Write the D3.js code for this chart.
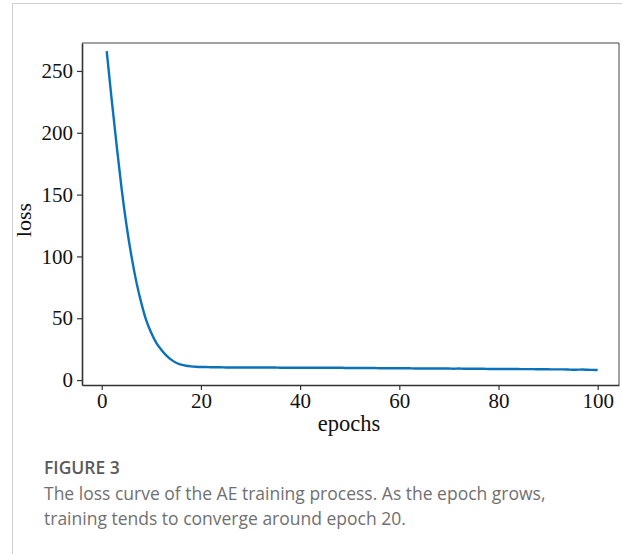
<!DOCTYPE html>
<html><head><meta charset="utf-8">
<script src="https://cdn.jsdelivr.net/npm/d3@7"></script>
<style>
html,body{margin:0;padding:0;background:#fff;}
svg{display:block;}
</style></head>
<body>
<svg id="c" width="622" height="554"></svg>
<script>
const epochs = d3.range(1, 101);
const loss = [
 266, 227, 190, 155, 125, 100, 79, 62, 48, 38,
 30, 24.5, 20, 16.5, 14, 12.5, 11.6, 11.1, 10.8, 10.6,
 10.5, 10.4, 10.3, 10.3, 10.2, 10.2, 10.2, 10.1, 10.1, 10.1,
 10.1, 10.1, 10.1, 10.1, 10.1, 10.0, 10.0, 10.0, 10.0, 10.0,
 10.0, 10.0, 10.0, 10.0, 9.9, 9.9, 9.9, 10.0, 9.8, 9.8,
 9.8, 9.7, 9.7, 9.7, 9.7, 9.6, 9.6, 9.6, 9.6, 9.5,
 9.5, 9.5, 9.4, 9.4, 9.4, 9.4, 9.3, 9.3, 9.3, 9.3,
 9.2, 9.3, 9.2, 9.2, 9.1, 9.1, 9.1, 9.0, 9.0, 9.0,
 9.0, 8.9, 8.9, 8.9, 8.8, 8.8, 8.8, 8.7, 8.7, 8.7,
 8.6, 8.6, 8.6, 8.5, 8.3, 8.4, 8.5, 8.3, 8.2, 8.1
];
const xTicks = [0, 20, 40, 60, 80, 100];
const yTicks = [0, 50, 100, 150, 200, 250];
const xLabel = "epochs";
const yLabel = "loss";
const figTitle = "FIGURE 3";
const captionLines = [
 "The loss curve of the AE training process. As the epoch grows,",
 "training tends to converge around epoch 20."
];

const svg = d3.select("#c");
const L = 82, R = 619, T = 43, B = 385;
const x = d3.scaleLinear().domain([-3.98, 104.3]).range([L, R]);
const y = d3.scaleLinear().domain([-4, 272.6]).range([B, T]);

// page frame
svg.append("line").attr("x1", 12).attr("x2", 622).attr("y1", 3.5).attr("y2", 3.5)
  .attr("stroke", "#cfcfcf").attr("stroke-width", 1);
svg.append("line").attr("x1", 12.5).attr("x2", 12.5).attr("y1", 3.5).attr("y2", 554)
  .attr("stroke", "#cfcfcf").attr("stroke-width", 1);

// box top/right
svg.append("path").attr("d", `M${L},${T}H${R}V${B}`).attr("fill", "none")
  .attr("stroke", "#444").attr("stroke-width", 1);

const serif = "'Liberation Serif','Times New Roman',serif";

const xAxis = svg.append("g").attr("transform", `translate(0,${B})`)
  .call(d3.axisBottom(x).tickValues(xTicks).tickSize(5).tickPadding(3).tickSizeOuter(0));
const yAxis = svg.append("g").attr("transform", `translate(${L},0)`)
  .call(d3.axisLeft(y).tickValues(yTicks).tickSize(5).tickPadding(4).tickSizeOuter(0));
[xAxis, yAxis].forEach(g => {
  g.select(".domain").attr("stroke", "#333").attr("stroke-width", 1.6);
  g.selectAll(".tick line").attr("stroke", "#333").attr("stroke-width", 1.2);
  g.selectAll(".tick text").attr("fill", "#111").style("font-family", serif).style("font-size", "21px");
});

// line
svg.append("path").datum(epochs.map((e, i) => [e, loss[i]]))
  .attr("fill", "none").attr("stroke", "#0a72bb").attr("stroke-width", 2.4)
  .attr("stroke-linejoin", "round")
  .attr("d", d3.line().x(d => x(d[0])).y(d => y(d[1])).curve(d3.curveMonotoneX));

// axis labels
svg.append("text").attr("x", 349).attr("y", 431).attr("text-anchor", "middle")
  .style("font-family", serif).style("font-size", "22.5px").attr("fill", "#111").text(xLabel);
svg.append("text").attr("transform", "translate(31,220) rotate(-90)").attr("text-anchor", "middle")
  .style("font-family", serif).style("font-size", "22px").attr("fill", "#111").text(yLabel);

// caption
const sans = "'Open Sans','Noto Sans',sans-serif";
svg.append("text").attr("x", 44).attr("y", 474).style("font-family", sans)
  .style("font-size", "17.5px").style("font-weight", 600).attr("fill", "#5a5a5a").text(figTitle);
svg.append("g").selectAll("text").data(captionLines).join("text")
  .attr("x", 44).attr("y", (d, i) => 500 + i * 25).style("font-family", sans)
  .style("font-size", "17.5px").attr("fill", "#707070").text(d => d);
</script>
</body></html>
